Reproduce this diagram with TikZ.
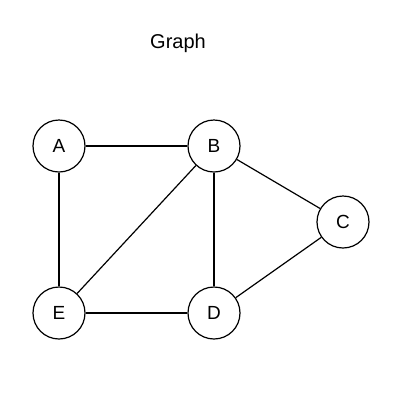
\documentclass[tikz,border=0pt]{standalone}
\usepackage{fontspec}
\setmainfont{Liberation Sans}
\begin{document}
\begin{tikzpicture}[x=1pt,y=-1pt,
    vertex/.style={draw, circle, line width=1.2pt, minimum size=52pt, inner sep=0pt, font=\fontsize{19}{22}\selectfont},
    edge/.style={line width=1.2pt}]
    % Canvas
    \useasboundingbox (0,0) rectangle (410,416);

    % Title
    \node[font=\fontsize{20}{24}\selectfont] (title) at (178,43) {Graph};

    % Vertices
    \node[vertex] (A) at (59,146) {A};
    \node[vertex] (B) at (214,146) {B};
    \node[vertex] (C) at (343,222) {C};
    \node[vertex] (D) at (214,313) {D};
    \node[vertex] (E) at (59,313) {E};

    % Edges
    \draw[edge] (A) -- (B);
    \draw[edge] (A) -- (E);
    \draw[edge] (B) -- (C);
    \draw[edge] (B) -- (D);
    \draw[edge] (B) -- (E);
    \draw[edge] (C) -- (D);
    \draw[edge] (D) -- (E);

\end{tikzpicture}
\end{document}
